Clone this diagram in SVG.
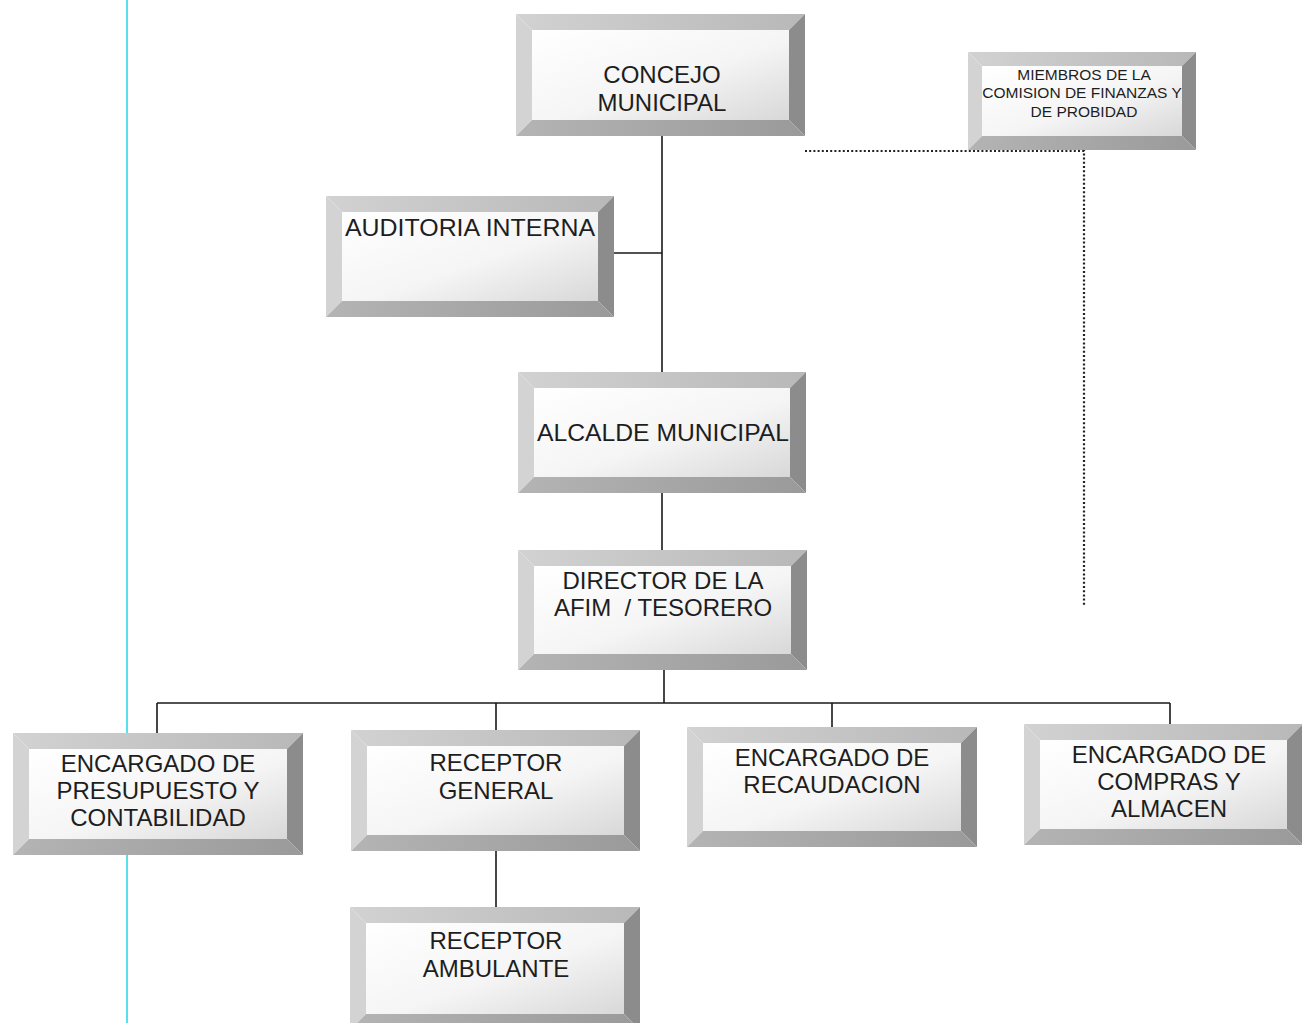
<svg xmlns="http://www.w3.org/2000/svg" width="1302" height="1023" viewBox="0 0 1302 1023">
<defs>
<linearGradient id="face" x1="0" y1="0" x2="1" y2="1">
<stop offset="0" stop-color="#ffffff"/>
<stop offset="0.55" stop-color="#f5f5f5"/>
<stop offset="1" stop-color="#d8d8d8"/>
</linearGradient>
<linearGradient id="topg" x1="0" y1="0" x2="1" y2="0">
<stop offset="0" stop-color="#d2d2d2"/>
<stop offset="1" stop-color="#b8b8b8"/>
</linearGradient>
<linearGradient id="botg" x1="0" y1="0" x2="1" y2="0">
<stop offset="0" stop-color="#b4b4b4"/>
<stop offset="1" stop-color="#9a9a9a"/>
</linearGradient>
</defs>
<style>
.t{fill:url(#topg)}
.l{fill:#d3d3d3}
.r{fill:#8c8c8c}
.b{fill:url(#botg)}
.f{fill:url(#face)}
text{font-family:"Liberation Sans",Arial,sans-serif;font-size:24px;fill:#1e1e1e;text-anchor:middle;white-space:pre}
text.s{font-size:15.5px}
.c{stroke:#1a1a1a;stroke-width:1.6;fill:none}
.d{stroke:#222;stroke-width:2.2;fill:none;stroke-dasharray:2 2.2}
</style>
<rect width="1302" height="1023" fill="#ffffff"/>
<line x1="127" y1="0" x2="127" y2="1023" stroke="#33d6e6" stroke-width="1.6"/>

<g id="connectors">
<path class="c" d="M662 136V372M614 253H662M662 493V550M664 670V703M157 703H1170M157 703V733M496 703V730M832 703V727M1170 703V724M496 851V907"/>
<path class="d" d="M805 151H1084V607"/>
</g>

<g id="concejo">
<polygon class="t" points="516,14 805,14 789,30 532,30"/>
<polygon class="l" points="516,14 532,30 532,120 516,136"/>
<polygon class="r" points="805,14 805,136 789,120 789,30"/>
<polygon class="b" points="516,136 805,136 789,120 532,120"/>
<rect class="f" x="532" y="30" width="257" height="90"/>
<text x="662" y="83">CONCEJO</text>
<text x="662" y="111">MUNICIPAL</text>
</g>

<g id="miembros">
<polygon class="t" points="968,52 1196,52 1182,66 982,66"/>
<polygon class="l" points="968,52 982,66 982,136 968,150"/>
<polygon class="r" points="1196,52 1196,150 1182,136 1182,66"/>
<polygon class="b" points="968,150 1196,150 1182,136 982,136"/>
<rect class="f" x="982" y="66" width="200" height="70"/>
<text class="s" x="1084" y="80">MIEMBROS DE LA</text>
<text class="s" x="1082" y="98">COMISION DE FINANZAS Y</text>
<text class="s" x="1084" y="117">DE PROBIDAD</text>
</g>

<g id="auditoria">
<polygon class="t" points="326,196 614,196 598,212 342,212"/>
<polygon class="l" points="326,196 342,212 342,301 326,317"/>
<polygon class="r" points="614,196 614,317 598,301 598,212"/>
<polygon class="b" points="326,317 614,317 598,301 342,301"/>
<rect class="f" x="342" y="212" width="256" height="89"/>
<text x="470" y="236" textLength="250" lengthAdjust="spacingAndGlyphs">AUDITORIA INTERNA</text>
</g>

<g id="alcalde">
<polygon class="t" points="518,372 806,372 790,388 534,388"/>
<polygon class="l" points="518,372 534,388 534,477 518,493"/>
<polygon class="r" points="806,372 806,493 790,477 790,388"/>
<polygon class="b" points="518,493 806,493 790,477 534,477"/>
<rect class="f" x="534" y="388" width="256" height="89"/>
<text x="663" y="441" textLength="252" lengthAdjust="spacingAndGlyphs">ALCALDE MUNICIPAL</text>
</g>

<g id="director">
<polygon class="t" points="518,550 807,550 791,566 534,566"/>
<polygon class="l" points="518,550 534,566 534,654 518,670"/>
<polygon class="r" points="807,550 807,670 791,654 791,566"/>
<polygon class="b" points="518,670 807,670 791,654 534,654"/>
<rect class="f" x="534" y="566" width="257" height="88"/>
<text x="663" y="589">DIRECTOR DE LA</text>
<text x="663" y="616">AFIM  / TESORERO</text>
</g>

<g id="presupuesto">
<polygon class="t" points="13,733 303,733 287,749 29,749"/>
<polygon class="l" points="13,733 29,749 29,839 13,855"/>
<polygon class="r" points="303,733 303,855 287,839 287,749"/>
<polygon class="b" points="13,855 303,855 287,839 29,839"/>
<rect class="f" x="29" y="749" width="258" height="90"/>
<text x="158" y="772">ENCARGADO DE</text>
<text x="158" y="799">PRESUPUESTO Y</text>
<text x="158" y="826">CONTABILIDAD</text>
</g>

<g id="receptor-general">
<polygon class="t" points="351,730 640,730 624,746 367,746"/>
<polygon class="l" points="351,730 367,746 367,835 351,851"/>
<polygon class="r" points="640,730 640,851 624,835 624,746"/>
<polygon class="b" points="351,851 640,851 624,835 367,835"/>
<rect class="f" x="367" y="746" width="257" height="89"/>
<text x="496" y="771">RECEPTOR</text>
<text x="496" y="799">GENERAL</text>
</g>

<g id="recaudacion">
<polygon class="t" points="687,727 977,727 961,743 703,743"/>
<polygon class="l" points="687,727 703,743 703,831 687,847"/>
<polygon class="r" points="977,727 977,847 961,831 961,743"/>
<polygon class="b" points="687,847 977,847 961,831 703,831"/>
<rect class="f" x="703" y="743" width="258" height="88"/>
<text x="832" y="766">ENCARGADO DE</text>
<text x="832" y="793">RECAUDACION</text>
</g>

<g id="compras">
<polygon class="t" points="1024,724 1303,724 1287,740 1040,740"/>
<polygon class="l" points="1024,724 1040,740 1040,829 1024,845"/>
<polygon class="r" points="1303,724 1303,845 1287,829 1287,740"/>
<polygon class="b" points="1024,845 1303,845 1287,829 1040,829"/>
<rect class="f" x="1040" y="740" width="247" height="89"/>
<text x="1169" y="763">ENCARGADO DE</text>
<text x="1169" y="790">COMPRAS Y</text>
<text x="1169" y="817">ALMACEN</text>
</g>

<g id="receptor-ambulante">
<polygon class="t" points="350,907 640,907 624,923 366,923"/>
<polygon class="l" points="350,907 366,923 366,1014 350,1030"/>
<polygon class="r" points="640,907 640,1030 624,1014 624,923"/>
<polygon class="b" points="350,1030 640,1030 624,1014 366,1014"/>
<rect class="f" x="366" y="923" width="258" height="91"/>
<text x="496" y="949">RECEPTOR</text>
<text x="496" y="977">AMBULANTE</text>
</g>
</svg>
